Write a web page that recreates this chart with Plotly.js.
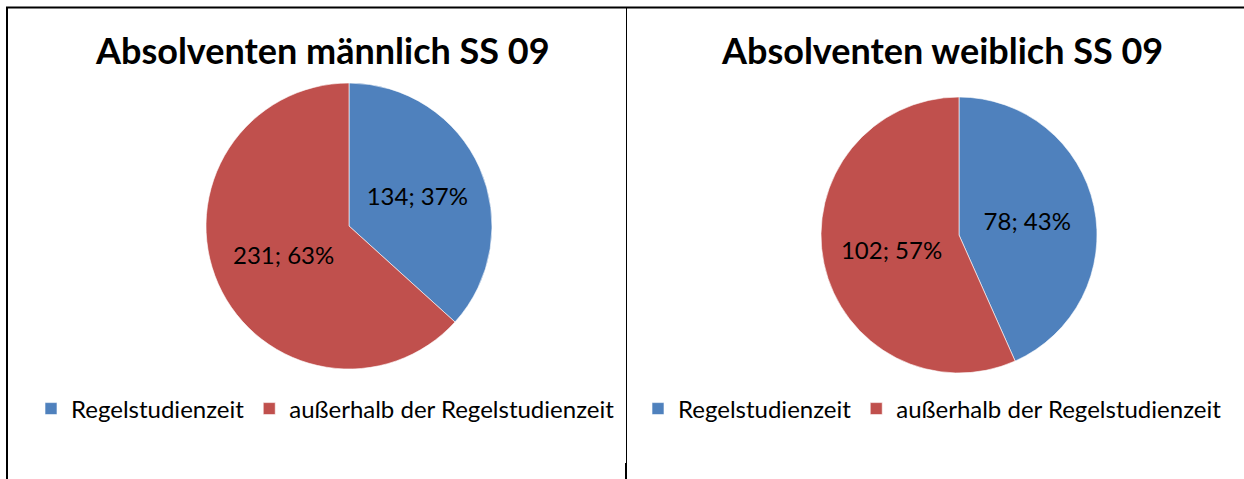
<!DOCTYPE html>
<html>
<head>
<meta charset="utf-8">
<script src="https://cdn.plot.ly/plotly-3.0.1.min.js"></script>
<style>html,body{margin:0;padding:0;background:#fff;}#chart{width:1244px;height:479px;}</style>
</head>
<body>
<div id="chart"></div>
<script>
const categories = ["Regelstudienzeit", "außerhalb der Regelstudienzeit"];
const maleValues = [134, 231];
const femaleValues = [78, 102];
const titles = ["Absolventen männlich SS 09", "Absolventen weiblich SS 09"];
const colors = ["#4F81BD", "#C0504D"];

const W = 1244, H = 479;
const FONT = "Lato, 'Open Sans', sans-serif";
const px = x => x / W;
const py = y => 1 - y / H;

function pie(labels, values, dom, legendName) {
  return {
    type: "pie",
    labels: labels,
    values: values,
    sort: false,
    direction: "clockwise",
    rotation: 0,
    marker: {colors: colors, line: {color: "rgba(255,255,255,0.6)", width: 1}},
    texttemplate: "%{value}; %{percent:.0%}",
    textposition: "inside",
    insidetextorientation: "horizontal",
    textfont: {family: FONT, size: 24, color: "#000"},
    hoverinfo: "none",
    domain: dom,
    legend: legendName
  };
}

// second chart gets its own legend entries (pie legend items are keyed by label)
const femaleLabels = categories.map(c => c + "\u200B");

const data = [
  pie(categories, maleValues, {x: [px(206), px(492)], y: [py(369), py(83)]}, "legend"),
  pie(femaleLabels, femaleValues, {x: [px(821), px(1097)], y: [py(373), py(97)]}, "legend2")
];

const legendBase = {
  orientation: "h",
  font: {family: FONT, size: 24, color: "#000"},
  yanchor: "middle",
  xanchor: "left",
  itemclick: false,
  itemdoubleclick: false,
  bgcolor: "rgba(0,0,0,0)",
  tracegroupgap: 0,
  itemwidth: 30
};

const layout = {
  width: W, height: H,
  margin: {l: 0, r: 0, t: 0, b: 0},
  paper_bgcolor: "#fff",
  showlegend: true,
  legend: Object.assign({}, legendBase, {x: px(31), y: py(409)}),
  legend2: Object.assign({}, legendBase, {x: px(638), y: py(409)}),
  annotations: [
    {text: "<b>" + titles[0] + "</b>", x: px(322), y: py(50), xref: "paper", yref: "paper",
     showarrow: false, font: {family: FONT, size: 36, color: "#000"}, xanchor: "center", yanchor: "middle"},
    {text: "<b>" + titles[1] + "</b>", x: px(942), y: py(50), xref: "paper", yref: "paper",
     showarrow: false, font: {family: FONT, size: 36, color: "#000"}, xanchor: "center", yanchor: "middle"}
  ],
  shapes: [
    {type: "line", xref: "paper", yref: "paper", x0: px(6), x1: 1, y0: py(7.5), y1: py(7.5), line: {color: "#000", width: 2}},
    {type: "line", xref: "paper", yref: "paper", x0: px(7), x1: px(7), y0: py(7), y1: 0, line: {color: "#000", width: 2}},
    {type: "line", xref: "paper", yref: "paper", x0: px(626.5), x1: px(626.5), y0: py(7), y1: 0, line: {color: "#000", width: 1}},
    {type: "line", xref: "paper", yref: "paper", x0: px(626), x1: px(626), y0: py(463), y1: 0, line: {color: "#000", width: 2}}
  ]
};

Plotly.newPlot("chart", data, layout, {displayModeBar: false, staticPlot: true});
</script>
</body>
</html>
